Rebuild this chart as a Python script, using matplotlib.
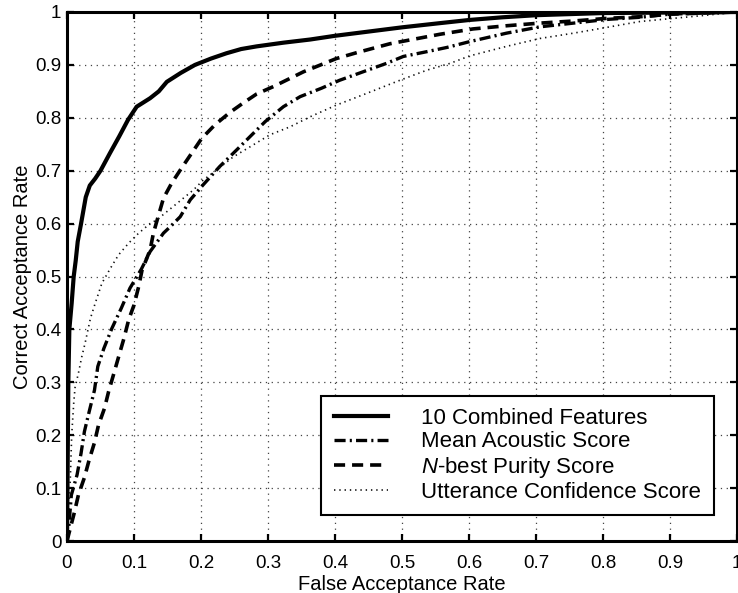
import matplotlib
matplotlib.use('Agg')
import matplotlib.pyplot as plt

plt.rcParams['font.family'] = ['Liberation Sans', 'DejaVu Sans']
plt.rcParams['mathtext.fontset'] = 'custom'
plt.rcParams['mathtext.rm'] = 'Liberation Sans'
plt.rcParams['mathtext.it'] = 'Liberation Sans:italic'
plt.rcParams['lines.scale_dashes'] = False

# ROC curves
combined_x = [0, 0.001, 0.002, 0.0035, 0.007, 0.01, 0.013, 0.016, 0.021, 0.028, 0.034, 0.042, 0.05,
              0.064, 0.078, 0.091, 0.104, 0.124, 0.137, 0.149, 0.17, 0.191, 0.215, 0.238, 0.26, 0.283,
              0.323, 0.363, 0.40, 0.45, 0.5, 0.557, 0.601, 0.65, 0.701, 0.75, 0.8, 0.9, 1.0]
combined_y = [0, 0.15, 0.3, 0.4, 0.45, 0.5, 0.53, 0.566, 0.6, 0.65, 0.672, 0.685, 0.70,
              0.733, 0.765, 0.796, 0.821, 0.837, 0.85, 0.868, 0.885, 0.9, 0.912, 0.922, 0.93, 0.935,
              0.942, 0.948, 0.955, 0.963, 0.971, 0.979, 0.985, 0.99, 0.994, 0.996, 0.998, 0.999, 1.0]

acoustic_x = [0, 0.0025, 0.0065, 0.015, 0.021, 0.026, 0.033, 0.041, 0.046, 0.055, 0.067, 0.081, 0.094,
              0.111, 0.124, 0.144, 0.154, 0.169, 0.184, 0.203, 0.228, 0.253, 0.276, 0.296, 0.323, 0.348,
              0.38, 0.407, 0.442, 0.477, 0.502, 0.537, 0.567, 0.601, 0.656, 0.706, 0.756, 0.806, 0.855,
              0.9, 1.0]
acoustic_y = [0, 0.024, 0.087, 0.125, 0.166, 0.207, 0.244, 0.285, 0.33, 0.364, 0.402, 0.44, 0.478,
              0.514, 0.547, 0.582, 0.594, 0.613, 0.645, 0.673, 0.708, 0.739, 0.768, 0.793, 0.821, 0.84,
              0.856, 0.871, 0.887, 0.903, 0.916, 0.925, 0.933, 0.944, 0.96, 0.972, 0.979, 0.986, 0.99,
              0.996, 1.0]

nbest_x = [0, 0.011, 0.017, 0.026, 0.033, 0.041, 0.047, 0.056, 0.062, 0.07, 0.077, 0.085, 0.092, 0.1,
           0.107, 0.112, 0.124, 0.129, 0.136, 0.144, 0.156, 0.171, 0.186, 0.201, 0.221, 0.243, 0.263,
           0.283, 0.308, 0.353, 0.402, 0.432, 0.482, 0.557, 0.606, 0.656, 0.706, 0.756, 0.806, 0.855,
           0.9, 0.95, 1.0]
nbest_y = [0, 0.054, 0.087, 0.12, 0.153, 0.186, 0.219, 0.251, 0.282, 0.317, 0.348, 0.383, 0.418, 0.446,
           0.481, 0.512, 0.55, 0.582, 0.613, 0.648, 0.676, 0.705, 0.733, 0.761, 0.787, 0.81, 0.828,
           0.845, 0.859, 0.887, 0.912, 0.923, 0.94, 0.958, 0.968, 0.974, 0.979, 0.983, 0.988, 0.991,
           0.996, 0.998, 1.0]

utter_x = [0, 0.003, 0.005, 0.007, 0.01, 0.012, 0.017, 0.022, 0.027, 0.035, 0.042, 0.052, 0.065, 0.077,
           0.092, 0.107, 0.124, 0.134, 0.164, 0.189, 0.203, 0.223, 0.248, 0.273, 0.303, 0.333, 0.363,
           0.402, 0.447, 0.497, 0.537, 0.572, 0.601, 0.656, 0.706, 0.756, 0.806, 0.855, 0.905, 0.955, 1.0]
utter_y = [0, 0.065, 0.12, 0.2, 0.26, 0.29, 0.317, 0.348, 0.374, 0.421, 0.449, 0.487, 0.516, 0.541,
           0.563, 0.582, 0.6, 0.607, 0.638, 0.664, 0.682, 0.701, 0.726, 0.745, 0.768, 0.783, 0.802,
           0.824, 0.846, 0.871, 0.89, 0.903, 0.917, 0.935, 0.95, 0.96, 0.971, 0.982, 0.988, 0.994, 1.0]

labels = ['10 Combined Features', 'Mean Acoustic Score', '$\\mathit{N}$-best Purity Score',
          'Utterance Confidence Score']
ticks = [0, 0.1, 0.2, 0.3, 0.4, 0.5, 0.6, 0.7, 0.8, 0.9, 1]
tick_labels = ['0', '0.1', '0.2', '0.3', '0.4', '0.5', '0.6', '0.7', '0.8', '0.9', '1']

fig = plt.figure(figsize=(7.38, 5.93), dpi=100)
ax = fig.add_axes([67 / 738, 52 / 593, 670 / 738, 529 / 593])

ax.plot(combined_x, combined_y, color='black', lw=3.0, solid_joinstyle='round', label=labels[0])
ax.plot(acoustic_x, acoustic_y, color='black', lw=2.4, dashes=(8, 3, 1.5, 3), label=labels[1])
ax.plot(nbest_x, nbest_y, color='black', lw=2.6, dashes=(8, 5), label=labels[2])
ax.plot(utter_x, utter_y, color='#111111', lw=1.2, dashes=(1, 2.8), label=labels[3])

ax.set_xlim(0, 1)
ax.set_ylim(0, 1)
ax.set_xticks(ticks)
ax.set_yticks(ticks)
ax.set_xticklabels(tick_labels)
ax.set_yticklabels(tick_labels)
ax.tick_params(direction='in', length=5, width=1.6, labelsize=13.5, top=True, right=True)
ax.tick_params(axis='x', pad=10)
ax.tick_params(axis='y', pad=4)
for s in ax.spines.values():
    s.set_linewidth(2.2)
ax.grid(True, color='#444444', lw=0.9, linestyle=(0, (0.9, 3.3)))

ax.set_xlabel('False Acceptance Rate', fontsize=14.5, labelpad=2)
ax.set_ylabel('Correct Acceptance Rate', fontsize=14.5, labelpad=2)

leg = ax.legend(loc='lower right', bbox_to_anchor=(0.965, 0.049), fontsize=16,
                frameon=True, fancybox=False, borderpad=0.55, labelspacing=0.1,
                handlelength=2.45, handletextpad=1.5, borderaxespad=0)
leg.get_frame().set_edgecolor('black')
leg.get_frame().set_linewidth(1.5)
leg.get_frame().set_alpha(1)

fig.savefig('out.png', dpi=100)
